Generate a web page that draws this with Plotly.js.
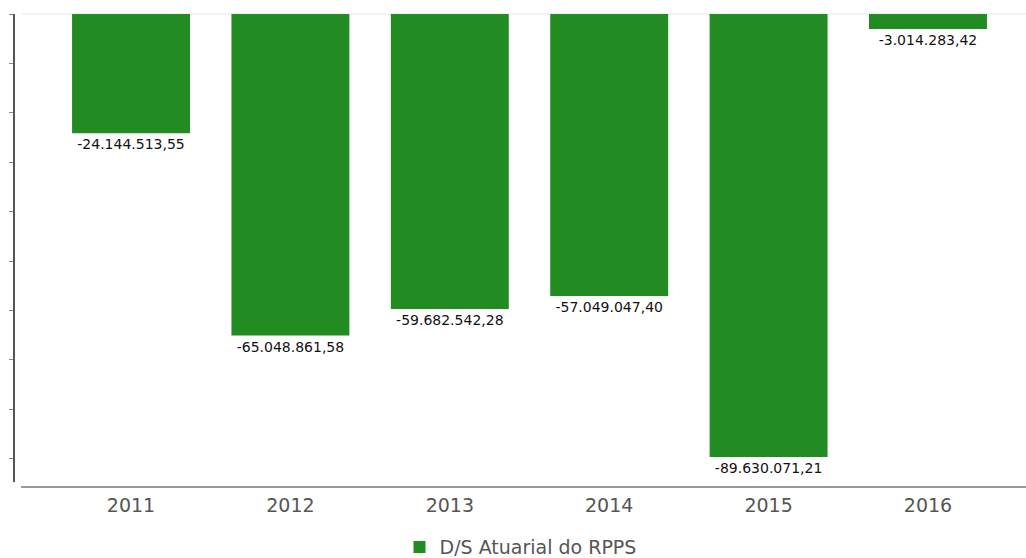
<!DOCTYPE html>
<html>
<head>
<meta charset="utf-8">
<script src="https://cdn.plot.ly/plotly-3.0.1.min.js"></script>
<style>html,body{margin:0;padding:0;background:#fff;}#chart{width:1026px;height:558px;}</style>
</head>
<body>
<div id="chart"></div>
<script>
var years = ["2011", "2012", "2013", "2014", "2015", "2016"];
var values = [-24144513.55, -65048861.58, -59682542.28, -57049047.40, -89630071.21, -3014283.42];
var seriesName = "D/S Atuarial do RPPS";

function fmtBR(v) {
  var neg = v < 0;
  var parts = Math.abs(v).toFixed(2).split(".");
  var intPart = parts[0].replace(/\B(?=(\d{3})+(?!\d))/g, ".");
  return (neg ? "-" : "") + intPart + "," + parts[1];
}
var labels = values.map(fmtBR);

var trace = {
  type: "bar",
  x: years,
  y: values,
  name: seriesName,
  text: labels,
  textposition: "outside",
  cliponaxis: false,
  textfont: {family: "DejaVu Sans", size: 14, color: "#111"},
  marker: {color: "#228B22", line: {width: 0}},
  width: 0.74,
  hoverinfo: "x+y",
  showlegend: true
};

var layout = {
  width: 1026,
  height: 558,
  margin: {l: 15, r: 0, t: 14, b: 76, pad: 0, autoexpand: false},
  paper_bgcolor: "#ffffff",
  plot_bgcolor: "#ffffff",
  showlegend: true,
  legend: {
    orientation: "h",
    x: 0.5, xanchor: "center",
    y: -0.139, yanchor: "middle",
    font: {family: "DejaVu Sans", size: 19, color: "#555"}
  },
  xaxis: {
    type: "category",
    range: [-0.728, 5.615],
    showline: false,
    showgrid: false,
    zeroline: false,
    ticks: "",
    ticklabelstandoff: 10,
    tickfont: {family: "DejaVu Sans", size: 19, color: "#555"}
  },
  yaxis: {
    range: [-94690000, 0],
    showline: true,
    linecolor: "#555",
    linewidth: 2,
    showgrid: false,
    zeroline: false,
    ticks: "outside",
    ticklen: 4,
    tickwidth: 1,
    tickcolor: "#888",
    dtick: 10000000,
    tick0: 0,
    showticklabels: false
  },
  shapes: [
    {type: "line", xref: "paper", yref: "paper", x0: 0.006, x1: 1, y0: 1, y1: 1,
     line: {color: "#e6e6e6", width: 1}, layer: "below"},
    {type: "line", xref: "paper", yref: "paper", x0: 0.006, x1: 1, y0: -0.0107, y1: -0.0107,
     line: {color: "#999", width: 2}}
  ]
};

Plotly.newPlot("chart", [trace], layout, {displayModeBar: false});
</script>
</body>
</html>
